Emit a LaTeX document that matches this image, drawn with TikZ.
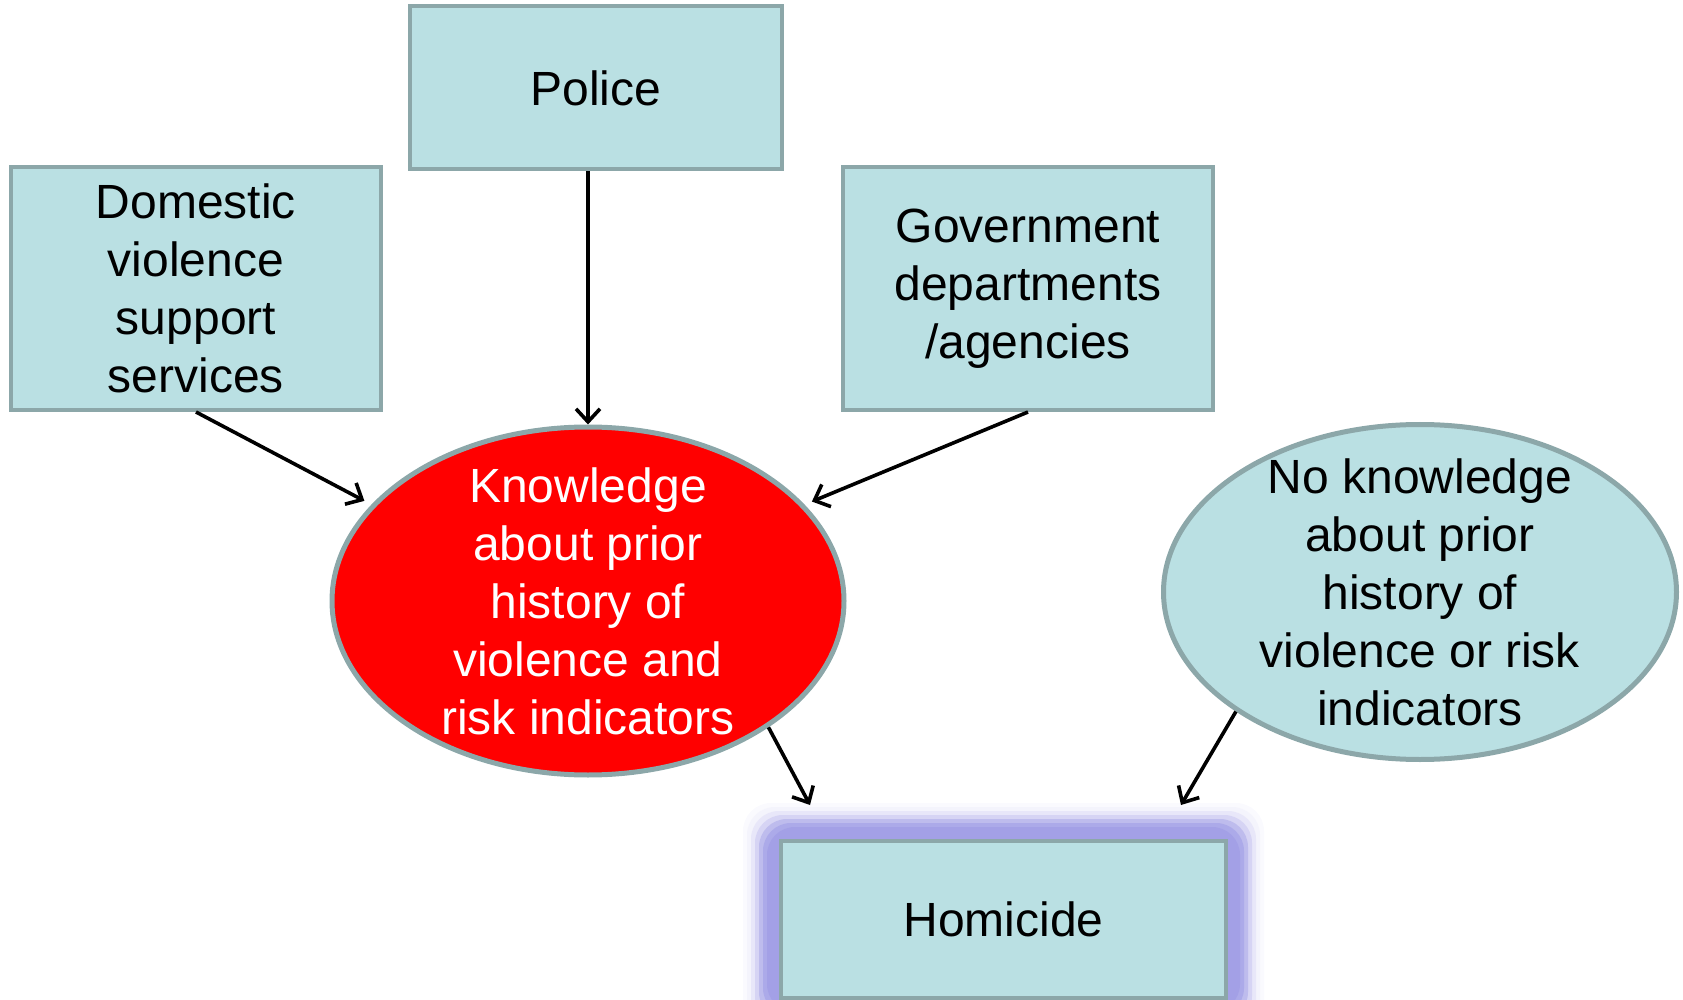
\documentclass[tikz,border=0pt]{standalone}
\usepackage{fontspec}
\setmainfont{Liberation Sans}
\usetikzlibrary{arrows.meta, shapes.geometric, backgrounds}

\definecolor{boxfill}{HTML}{BAE0E3}
\definecolor{boxline}{HTML}{8CA7A9}
\definecolor{glowblue}{HTML}{A3A0E6}

\begin{document}
\begin{tikzpicture}[
            x = 0.5pt, y = -0.5pt, % one unit per pixel of the slide
            > = {Straight Barb[length=6.5pt, width=12pt]}, % arrow head style
            line width = 1.8pt, % line style
            font = \fontsize{24}{29}\selectfont
        ]

        \tikzstyle{box}=[
            draw = boxline,
            line width = 2pt,
            fill = boxfill,
            align = center,
            inner sep = 0pt
        ]
        \tikzstyle{blob}=[
            ellipse,
            draw = boxline,
            line width = 2.5pt,
            align = center,
            inner xsep = 0pt
        ]

	\useasboundingbox (0,0) rectangle (1683,1000);

	\node[box, minimum width=186pt, minimum height=81.5pt] (police) at (596,88) {Police};
	\node[box, minimum width=185pt, minimum height=121.5pt] (dom) at (196,288.5) {Domestic\\violence\\support\\services};
	\node[box, minimum width=185pt, minimum height=121.5pt] (gov) at (1028,288.5) {Government\\departments\\/agencies};
	\node[blob, fill=red, text=white, inner ysep=-10pt, minimum width=256pt, minimum height=174pt] (know) at (588,601) {Knowledge\\about prior\\history of\\violence and\\risk indicators};
	\node[blob, fill=boxfill, inner ysep=-12pt, minimum width=256.5pt, minimum height=167.5pt] (noknow) at (1420,592) {No knowledge\\about prior\\history of\\violence or risk\\indicators};
	\node[box, minimum width=222.5pt, minimum height=78.5pt] (hom) at (1003.5,919.5) {Homicide};

	% glow round the homicide box
	\begin{scope}[on background layer]
	\foreach \g/\c in {36/5, 32/12, 28/25, 24/45, 20/70, 16/90, 12/100}
	    \fill[glowblue!\c, rounded corners=14pt] ([shift={(-\g,-\g)}]hom.north west) rectangle ([shift={(\g,\g)}]hom.south east);
	\end{scope}

	\coordinate (homL) at (810,805);
	\coordinate (homR) at (1181,805);

	\draw[->] (know.north |- police.south) -- (know.north);
	\draw[->, shorten > = 4pt] (dom.south) -- (know.156);
	\draw[->, shorten > = 4pt] (gov.south) -- (know.24);
	\draw[->] (know.-35) -- (homL);
	\draw[->] (noknow.213) -- (homR);

    \end{tikzpicture}
\end{document}
